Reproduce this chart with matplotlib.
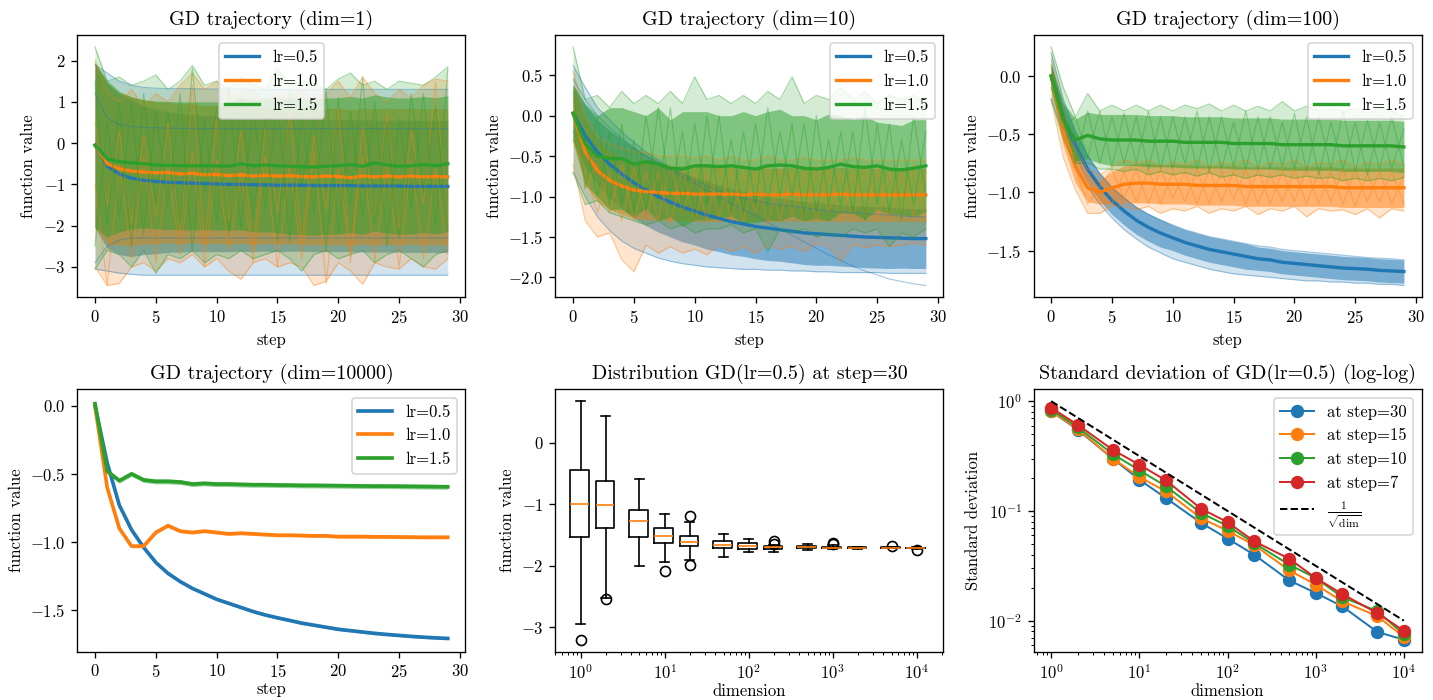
import numpy as np
import matplotlib
matplotlib.use('Agg')
import matplotlib.pyplot as plt
from matplotlib.ticker import MultipleLocator

plt.rcParams['font.family'] = 'serif'
plt.rcParams['font.serif'] = ['cmr10']
plt.rcParams['mathtext.fontset'] = 'cm'
plt.rcParams['axes.formatter.use_mathtext'] = True
plt.rcParams['axes.unicode_minus'] = True

steps = np.arange(30)
lrs = ['lr=0.5', 'lr=1.0', 'lr=1.5']
colors = ['C0', 'C1', 'C2']

# ---------------- dim = 1 ----------------
d1_mean_b = [-0.05, -0.55, -0.75, -0.85, -0.90, -0.93, -0.95, -0.96, -0.97, -0.98,
             -0.99, -1.00, -1.00, -1.01, -1.01, -1.02, -1.02, -1.02, -1.03, -1.03,
             -1.03, -1.03, -1.04, -1.04, -1.04, -1.04, -1.05, -1.05, -1.05, -1.05]
d1_sd_b = [2.00, 2.00, 1.95, 1.90, 1.80, 1.75, 1.70, 1.68, 1.66, 1.65,
           1.64, 1.63, 1.62, 1.62, 1.61, 1.61, 1.60, 1.60, 1.60, 1.60,
           1.60, 1.60, 1.60, 1.60, 1.60, 1.60, 1.60, 1.60, 1.60, 1.60]
d1_lo_b = [-3.05, -3.10, -3.15, -3.18, -3.20, -3.20, -3.20, -3.20, -3.20, -3.20,
           -3.20, -3.20, -3.20, -3.20, -3.20, -3.20, -3.20, -3.20, -3.20, -3.20,
           -3.20, -3.20, -3.20, -3.20, -3.20, -3.20, -3.20, -3.20, -3.20, -3.20]
d1_hi_b = [1.90, 1.70, 1.50, 1.40, 1.35, 1.33, 1.32, 1.32, 1.32, 1.31,
           1.31, 1.31, 1.31, 1.30, 1.30, 1.30, 1.30, 1.30, 1.30, 1.30,
           1.30, 1.30, 1.30, 1.30, 1.30, 1.30, 1.30, 1.30, 1.30, 1.30]
d1_tr_b1 = [1.20, 0.60, 0.45, 0.40, 0.38, 0.37, 0.36, 0.36, 0.35, 0.35,
            0.35, 0.35, 0.35, 0.35, 0.35, 0.35, 0.35, 0.35, 0.35, 0.35,
            0.35, 0.35, 0.35, 0.35, 0.35, 0.35, 0.35, 0.35, 0.35, 0.35]
d1_tr_b2 = [-2.90, -2.50, -2.35, -2.30, -2.30, -2.30, -2.30, -2.30, -2.30, -2.30,
            -2.30, -2.30, -2.30, -2.30, -2.30, -2.30, -2.30, -2.30, -2.30, -2.30,
            -2.30, -2.30, -2.30, -2.30, -2.30, -2.30, -2.30, -2.30, -2.30, -2.30]

d1_mean_o = [-0.05, -0.50, -0.62, -0.68, -0.70, -0.72, -0.71, -0.75, -0.73, -0.77,
             -0.76, -0.79, -0.77, -0.80, -0.78, -0.80, -0.79, -0.81, -0.82, -0.80,
             -0.81, -0.84, -0.80, -0.82, -0.80, -0.82, -0.80, -0.82, -0.81, -0.82]
d1_sd_o = [2.00, 1.95, 1.85, 1.80, 1.75, 1.72, 1.70, 1.70, 1.68, 1.68,
           1.67, 1.67, 1.66, 1.66, 1.65, 1.65, 1.65, 1.65, 1.65, 1.65,
           1.65, 1.65, 1.65, 1.65, 1.65, 1.65, 1.65, 1.65, 1.65, 1.65]
d1_lo_o = [-3.00, -3.45, -3.40, -3.00, -2.90, -3.10, -2.80, -2.90, -2.70, -3.00,
           -2.80, -3.10, -3.30, -2.90, -2.80, -3.00, -2.90, -3.00, -3.45, -3.35,
           -2.90, -3.10, -3.42, -2.90, -3.00, -3.05, -2.80, -3.00, -3.05, -2.80]
d1_hi_o = [2.00, 1.20, 1.00, 1.30, 0.90, 1.20, 1.00, 1.40, 1.70, 1.30,
           1.50, 1.10, 1.20, 1.30, 1.00, 1.20, 1.10, 1.30, 1.00, 1.20,
           1.50, 1.10, 1.60, 1.20, 1.00, 1.30, 1.10, 1.40, 1.55, 1.50]
d1_tr_o1 = [0.50, -1.50, 0.30, -2.00, 0.20, -1.80, 0.50, -2.20, 1.40, -2.50,
            0.60, -1.90, 0.30, -2.60, 0.40, -1.70, 0.80, -2.40, 0.20, -1.60,
            0.90, -2.90, 0.40, -1.80, 0.70, -2.10, 0.30, -1.50, 1.50, -2.00]
d1_tr_o2 = [-1.00, -3.45, -0.50, -2.80, -0.30, -2.90, -0.60, -2.70, -0.20, -3.00,
            -0.40, -2.60, -0.70, -2.90, -0.30, -3.00, -0.50, -2.80, -0.20, -3.40,
            -0.60, -2.70, -0.30, -2.90, -0.50, -3.00, -0.40, -2.80, -0.60, -2.70]

d1_mean_g = [-0.05, -0.38, -0.45, -0.48, -0.50, -0.53, -0.54, -0.55, -0.55, -0.55,
             -0.55, -0.56, -0.50, -0.55, -0.53, -0.55, -0.56, -0.57, -0.58, -0.56,
             -0.55, -0.52, -0.56, -0.48, -0.53, -0.56, -0.55, -0.52, -0.55, -0.50]
d1_sd_g = [2.00, 1.90, 1.70, 1.60, 1.55, 1.55, 1.55, 1.55, 1.55, 1.55,
           1.55, 1.55, 1.60, 1.60, 1.62, 1.62, 1.65, 1.65, 1.65, 1.65,
           1.65, 1.65, 1.65, 1.65, 1.65, 1.65, 1.65, 1.65, 1.65, 1.65]
d1_lo_g = [-3.05, -2.60, -2.70, -3.00, -2.60, -3.15, -2.70, -2.80, -2.60, -2.90,
           -2.70, -2.80, -2.60, -2.80, -2.70, -2.60, -2.80, -3.10, -2.70, -2.60,
           -2.80, -2.70, -2.60, -2.90, -2.70, -2.60, -2.80, -3.00, -2.70, -2.60]
d1_hi_g = [2.33, 1.50, 1.60, 1.40, 1.50, 1.65, 1.30, 1.50, 1.88, 1.40,
           1.50, 1.30, 1.60, 1.40, 1.30, 1.82, 1.40, 1.50, 1.45, 1.30,
           1.55, 1.70, 1.40, 1.50, 1.30, 1.50, 1.45, 1.40, 1.60, 1.85]
d1_tr_g1 = [1.50, -2.00, 1.00, -2.50, 1.20, -1.50, 0.80, -2.00, 1.80, -1.20,
            0.90, -2.20, 1.10, -1.80, 0.60, -2.40, 1.30, -1.00, 0.70, -2.60,
            1.10, -1.50, 1.60, -1.90, 0.50, -2.30, 1.20, -1.20, 0.90, -2.10]
d1_tr_g2 = [-2.50, 0.50, -1.80, 1.00, -2.20, 0.80, -1.50, 1.20, -2.60, 0.60,
            -1.90, 1.40, -2.10, 0.90, -1.60, 1.10, -2.40, 0.70, -1.70, 1.30,
            -2.20, 0.80, -1.80, 1.00, -2.50, 0.60, -1.60, 1.20, -2.00, 1.80]

# ---------------- dim = 10 ----------------
d10_mean_b = [0.03, -0.25, -0.45, -0.60, -0.72, -0.83, -0.92, -1.00, -1.07, -1.13,
              -1.18, -1.23, -1.27, -1.31, -1.34, -1.37, -1.39, -1.41, -1.43, -1.45,
              -1.46, -1.47, -1.48, -1.49, -1.50, -1.505, -1.51, -1.515, -1.52, -1.52]
d10_sd_b = [0.35, 0.38, 0.40, 0.42, 0.43, 0.44, 0.44, 0.44, 0.43, 0.43,
            0.42, 0.42, 0.41, 0.41, 0.40, 0.40, 0.40, 0.39, 0.39, 0.39,
            0.39, 0.38, 0.38, 0.38, 0.38, 0.38, 0.38, 0.37, 0.37, 0.37]
d10_lo_b = [-0.70, -1.00, -1.25, -1.42, -1.55, -1.64, -1.70, -1.76, -1.80, -1.83,
            -1.85, -1.87, -1.88, -1.89, -1.90, -1.90, -1.91, -1.91, -1.92, -1.92,
            -1.93, -1.93, -1.94, -1.94, -1.94, -1.94, -1.95, -1.95, -1.95, -1.95]
d10_hi_b = [0.62, 0.35, 0.10, -0.05, -0.20, -0.33, -0.45, -0.55, -0.64, -0.72,
            -0.80, -0.87, -0.93, -0.98, -1.02, -1.05, -1.08, -1.10, -1.12, -1.14,
            -1.16, -1.18, -1.19, -1.20, -1.21, -1.22, -1.23, -1.24, -1.25, -1.25]
d10_tr_b1 = [0.45, 0.20, 0.00, -0.15, -0.28, -0.40, -0.50, -0.60, -0.68, -0.76,
             -0.84, -0.92, -1.00, -1.08, -1.16, -1.24, -1.32, -1.40, -1.48, -1.56,
             -1.64, -1.72, -1.79, -1.86, -1.92, -1.97, -2.02, -2.05, -2.08, -2.10]

d10_mean_o = [0.03, -0.45, -0.68, -0.80, -0.87, -0.92, -0.94, -0.95, -0.96, -0.96,
              -0.97, -0.97, -0.97, -0.97, -0.98, -0.97, -0.98, -0.98, -0.97, -0.98,
              -0.98, -0.98, -0.97, -0.98, -0.98, -0.98, -0.98, -0.98, -0.98, -0.98]
d10_sd_o = [0.35, 0.40, 0.38, 0.36, 0.35, 0.35, 0.35, 0.34, 0.34, 0.34,
            0.34, 0.34, 0.34, 0.33, 0.33, 0.33, 0.33, 0.33, 0.33, 0.33,
            0.33, 0.33, 0.33, 0.33, 0.33, 0.33, 0.33, 0.33, 0.33, 0.33]
d10_lo_o = [-0.60, -1.30, -1.50, -1.45, -1.78, -1.93, -1.60, -1.70, -1.62, -1.70,
            -1.65, -1.72, -1.60, -1.68, -1.62, -1.70, -1.60, -1.65, -1.62, -1.68,
            -1.58, -1.62, -1.80, -1.60, -1.63, -1.60, -1.62, -1.60, -1.58, -1.60]
d10_hi_o = [0.55, 0.00, -0.25, -0.35, -0.40, -0.45, -0.45, -0.50, -0.50, -0.50,
            -0.52, -0.50, -0.55, -0.50, -0.55, -0.55, -0.50, -0.55, -0.55, -0.52,
            -0.55, -0.55, -0.55, -0.52, -0.55, -0.55, -0.55, -0.55, -0.55, -0.55]
d10_tr_o1 = [0.20, -0.90, -0.60, -1.20, -0.60, -1.30, -0.70, -1.30, -0.60, -1.20,
             -0.70, -1.30, -0.60, -1.30, -0.70, -1.20, -0.60, -1.30, -0.70, -1.30,
             -0.60, -1.20, -0.70, -1.30, -0.60, -1.30, -0.70, -1.20, -0.60, -1.30]
d10_tr_o2 = [-0.30, -0.70, -1.20, -0.70, -1.30, -0.65, -1.25, -0.70, -1.35, -0.65,
             -1.30, -0.70, -1.25, -0.65, -1.30, -0.70, -1.35, -0.65, -1.25, -0.70,
             -1.30, -0.65, -1.35, -0.70, -1.25, -0.65, -1.30, -0.70, -1.25, -0.70]

d10_mean_g = [0.03, -0.35, -0.50, -0.53, -0.53, -0.60, -0.57, -0.60, -0.65, -0.66,
              -0.62, -0.62, -0.63, -0.62, -0.64, -0.66, -0.62, -0.61, -0.62, -0.65,
              -0.66, -0.64, -0.60, -0.63, -0.64, -0.62, -0.66, -0.67, -0.65, -0.62]
d10_sd_g = [0.35, 0.50, 0.50, 0.63, 0.63, 0.65, 0.57, 0.70, 0.60, 0.71,
            0.67, 0.67, 0.63, 0.62, 0.69, 0.66, 0.67, 0.69, 0.62, 0.65,
            0.61, 0.66, 0.60, 0.58, 0.64, 0.54, 0.56, 0.55, 0.60, 0.57]
d10_lo_g = [-0.70, -1.10, -1.05, -1.20, -1.25, -1.30, -1.35, -1.30, -1.40, -1.35,
            -1.45, -1.40, -1.40, -1.35, -1.45, -1.40, -1.68, -1.40, -1.45, -1.40,
            -1.50, -1.45, -1.50, -1.40, -1.45, -1.40, -1.62, -1.45, -1.50, -1.40]
d10_hi_g = [0.85, 0.20, 0.25, 0.10, 0.30, 0.15, 0.25, 0.15, 0.30, 0.15,
            0.48, 0.20, 0.25, 0.15, 0.25, 0.15, 0.30, 0.20, 0.48, 0.15,
            0.25, 0.20, 0.35, 0.20, 0.30, 0.15, 0.25, 0.20, 0.25, 0.15]
d10_tr_g1 = [0.30, -0.90, 0.00, -1.10, -0.10, -1.20, 0.00, -1.00, 0.10, -1.20,
             -0.10, -1.10, 0.00, -1.20, -0.20, -1.10, 0.10, -1.00, -0.10, -1.30,
             0.00, -1.10, -0.20, -1.20, 0.10, -1.10, -0.10, -1.30, 0.00, -1.00]
d10_tr_g2 = [-0.20, -0.30, -1.00, -0.20, -1.10, -0.30, -1.20, 0.10, -1.00, -0.20,
             -1.30, 0.00, -1.10, -0.30, -1.20, -0.10, -1.10, -0.20, -1.00, -0.10,
             -1.20, -0.30, -1.10, -0.20, -1.30, -0.10, -1.20, -0.30, -1.10, -0.20]

# ---------------- dim = 100 ----------------
d100_mean_b = [0.00, -0.35, -0.60, -0.80, -0.95, -1.07, -1.16, -1.24, -1.30, -1.35,
               -1.39, -1.43, -1.46, -1.49, -1.51, -1.53, -1.55, -1.57, -1.58, -1.60,
               -1.61, -1.62, -1.63, -1.64, -1.65, -1.655, -1.66, -1.67, -1.675, -1.68]
d100_sd_b = [0.10, 0.11, 0.12, 0.12, 0.12, 0.12, 0.12, 0.12, 0.12, 0.12,
             0.11, 0.11, 0.11, 0.11, 0.11, 0.11, 0.11, 0.10, 0.10, 0.10,
             0.10, 0.10, 0.10, 0.10, 0.10, 0.10, 0.10, 0.10, 0.10, 0.10]
d100_lo_b = [-0.20, -0.50, -0.75, -0.95, -1.10, -1.22, -1.32, -1.40, -1.47, -1.52,
             -1.57, -1.60, -1.63, -1.66, -1.68, -1.70, -1.71, -1.72, -1.73, -1.74,
             -1.75, -1.76, -1.76, -1.77, -1.77, -1.78, -1.78, -1.79, -1.79, -1.80]
d100_hi_b = [0.20, -0.20, -0.47, -0.68, -0.84, -0.96, -1.05, -1.13, -1.19, -1.24,
             -1.28, -1.32, -1.35, -1.38, -1.40, -1.42, -1.44, -1.46, -1.47, -1.49,
             -1.50, -1.51, -1.52, -1.53, -1.54, -1.55, -1.56, -1.565, -1.57, -1.58]

d100_mean_o = [0.00, -0.48, -0.78, -0.96, -1.00, -0.96, -0.93, -0.92, -0.92, -0.93,
               -0.93, -0.93, -0.94, -0.94, -0.94, -0.94, -0.95, -0.95, -0.95, -0.95,
               -0.95, -0.95, -0.95, -0.95, -0.96, -0.96, -0.96, -0.96, -0.96, -0.96]
d100_sd_o = [0.10, 0.12, 0.14, 0.12, 0.10, 0.14, 0.16, 0.17, 0.17, 0.17,
             0.17, 0.17, 0.17, 0.17, 0.17, 0.17, 0.17, 0.17, 0.17, 0.17,
             0.17, 0.17, 0.17, 0.17, 0.17, 0.17, 0.17, 0.17, 0.17, 0.17]
d100_lo_o = [-0.20, -0.70, -0.98, -1.18, -1.18, -1.12, -1.12, -1.15, -1.12, -1.18,
             -1.14, -1.16, -1.12, -1.18, -1.14, -1.16, -1.12, -1.19, -1.14, -1.16,
             -1.12, -1.21, -1.14, -1.16, -1.15, -1.19, -1.14, -1.22, -1.14, -1.16]
d100_hi_o = [0.15, -0.30, -0.62, -0.80, -0.85, -0.78, -0.72, -0.75, -0.72, -0.78,
             -0.74, -0.76, -0.72, -0.78, -0.74, -0.76, -0.72, -0.78, -0.74, -0.76,
             -0.72, -0.78, -0.74, -0.76, -0.72, -0.78, -0.74, -0.76, -0.72, -0.76]
d100_tr_o1 = [0.00, -0.50, -0.80, -1.10, -0.95, -0.80, -1.05, -0.80, -1.10, -0.80,
              -1.05, -0.82, -1.10, -0.80, -1.08, -0.82, -1.10, -0.80, -1.10, -0.82,
              -1.08, -0.80, -1.10, -0.82, -1.10, -0.80, -1.08, -0.82, -1.10, -0.85]
d100_tr_o2 = [-0.10, -0.45, -0.75, -0.95, -1.05, -1.10, -0.82, -1.08, -0.80, -1.10,
              -0.82, -1.08, -0.80, -1.10, -0.82, -1.06, -0.80, -1.10, -0.84, -1.08,
              -0.80, -1.10, -0.82, -1.08, -0.80, -1.12, -0.84, -1.08, -0.82, -1.10]

d100_mean_g = [0.00, -0.38, -0.55, -0.51, -0.54, -0.55, -0.55, -0.55, -0.56, -0.56,
               -0.56, -0.57, -0.57, -0.57, -0.57, -0.58, -0.58, -0.58, -0.58, -0.59,
               -0.59, -0.59, -0.59, -0.59, -0.60, -0.60, -0.60, -0.60, -0.60, -0.61]
d100_sd_g = [0.10, 0.15, 0.18, 0.20, 0.21, 0.22, 0.22, 0.22, 0.22, 0.22,
             0.22, 0.22, 0.22, 0.22, 0.22, 0.22, 0.22, 0.22, 0.22, 0.22,
             0.22, 0.22, 0.22, 0.22, 0.22, 0.22, 0.22, 0.22, 0.22, 0.22]
d100_lo_g = [-0.20, -0.55, -0.75, -0.75, -0.80, -0.80, -0.82, -0.80, -0.85, -0.82,
             -0.85, -0.83, -0.86, -0.83, -0.87, -0.85, -0.88, -0.85, -0.87, -0.85,
             -0.88, -0.86, -0.88, -0.87, -0.90, -0.88, -0.90, -0.88, -0.90, -0.87]
d100_hi_g = [0.25, -0.10, -0.35, -0.15, -0.30, -0.25, -0.30, -0.25, -0.30, -0.25,
             -0.30, -0.25, -0.28, -0.24, -0.30, -0.25, -0.30, -0.26, -0.30, -0.22,
             -0.30, -0.26, -0.30, -0.28, -0.30, -0.28, -0.32, -0.27, -0.30, -0.35]
d100_tr_g1 = [0.10, -0.30, -0.75, -0.30, -0.75, -0.35, -0.75, -0.35, -0.80, -0.35,
              -0.80, -0.35, -0.80, -0.35, -0.80, -0.40, -0.80, -0.35, -0.80, -0.40,
              -0.80, -0.35, -0.85, -0.40, -0.80, -0.40, -0.85, -0.40, -0.80, -0.45]
d100_tr_g2 = [-0.10, -0.45, -0.35, -0.70, -0.30, -0.78, -0.32, -0.75, -0.30, -0.80,
              -0.35, -0.75, -0.30, -0.82, -0.35, -0.78, -0.30, -0.80, -0.35, -0.78,
              -0.32, -0.82, -0.35, -0.80, -0.30, -0.82, -0.38, -0.80, -0.35, -0.78]

# ---------------- dim = 10000 ----------------
d4_mean_b = [0.00, -0.42, -0.73, -0.91, -1.04, -1.15, -1.23, -1.29, -1.34, -1.38,
             -1.42, -1.45, -1.48, -1.51, -1.535, -1.556, -1.575, -1.595, -1.61, -1.625,
             -1.64, -1.65, -1.66, -1.67, -1.678, -1.685, -1.692, -1.698, -1.703, -1.707]
d4_mean_o = [0.00, -0.60, -0.90, -1.03, -1.03, -0.93, -0.88, -0.92, -0.93, -0.92,
             -0.93, -0.94, -0.935, -0.94, -0.945, -0.95, -0.95, -0.952, -0.955, -0.955,
             -0.96, -0.96, -0.96, -0.962, -0.962, -0.963, -0.964, -0.965, -0.965, -0.965]
d4_mean_g = [0.015, -0.48, -0.55, -0.50, -0.545, -0.555, -0.555, -0.56, -0.575, -0.57,
             -0.575, -0.575, -0.578, -0.58, -0.58, -0.582, -0.583, -0.585, -0.585, -0.586,
             -0.587, -0.588, -0.589, -0.59, -0.59, -0.591, -0.592, -0.593, -0.594, -0.595]
d4_spread = [0.010, 0.012, 0.018]

# ---------------- step-30 distribution / std ----------------
dims = [1, 2, 5, 10, 20, 50, 100, 200, 500, 1000, 2000, 5000, 10000]
box_med = [-1.00, -1.02, -1.28, -1.51, -1.61, -1.66, -1.685, -1.70, -1.70, -1.705, -1.705, -1.705, -1.71]
box_q1 = [-1.53, -1.38, -1.54, -1.63, -1.685, -1.71, -1.72, -1.725, -1.715, -1.715, -1.712, -1.71, -1.714]
box_q3 = [-0.44, -0.62, -1.09, -1.38, -1.51, -1.59, -1.63, -1.675, -1.685, -1.695, -1.70, -1.70, -1.706]
box_lo = [-2.94, -2.53, -2.00, -1.94, -1.90, -1.86, -1.78, -1.78, -1.745, -1.73, -1.72, -1.715, -1.72]
box_hi = [0.67, 0.43, -0.585, -1.155, -1.29, -1.485, -1.56, -1.66, -1.64, -1.67, -1.69, -1.695, -1.70]
box_fliers = [[-3.2], [-2.54], [], [-2.09], [-1.2, -1.98], [], [], [-1.59, -1.64],
              [], [-1.63, -1.65], [], [-1.675], [-1.74]]

std_step30 = [0.81, 0.55, 0.30, 0.193, 0.131, 0.078, 0.056, 0.040, 0.0233, 0.0179, 0.0135, 0.0079, 0.0067]
std_step15 = [0.81, 0.56, 0.30, 0.204, 0.151, 0.086, 0.066, 0.049, 0.0288, 0.0213, 0.0150, 0.0110, 0.0071]
std_step10 = [0.84, 0.58, 0.33, 0.235, 0.168, 0.096, 0.073, 0.051, 0.0324, 0.0245, 0.0164, 0.0122, 0.0075]
std_step7 = [0.87, 0.61, 0.36, 0.264, 0.190, 0.105, 0.079, 0.053, 0.0367, 0.0245, 0.0175, 0.0117, 0.0081]
std_labels = ['at step=30', 'at step=15', 'at step=10', 'at step=7']


def draw_group(ax, mean, sd, lo, hi, traces, color, label):
    m = np.array(mean)
    s = np.array(sd)
    for tr in traces:
        ax.plot(steps, tr, color=color, lw=0.7, alpha=0.4)
    ax.plot(steps, lo, color=color, lw=0.7, alpha=0.4)
    ax.plot(steps, hi, color=color, lw=0.7, alpha=0.4)
    ax.fill_between(steps, lo, hi, color=color, alpha=0.2, lw=0)
    ax.fill_between(steps, m - s, m + s, color=color, alpha=0.5, lw=0)
    ax.plot(steps, m, color=color, lw=2, label=label)


fig, axes = plt.subplots(2, 3, figsize=(1433 / 120, 700 / 120), dpi=120)
fig.subplots_adjust(left=0.054, right=0.992, top=0.95, bottom=0.069, wspace=0.232, hspace=0.35)

panels = [
    ('GD trajectory (dim=1)', 'upper center', 1.0, [
        (d1_mean_b, d1_sd_b, d1_lo_b, d1_hi_b, [d1_tr_b1, d1_tr_b2]),
        (d1_mean_o, d1_sd_o, d1_lo_o, d1_hi_o, [d1_tr_o1, d1_tr_o2]),
        (d1_mean_g, d1_sd_g, d1_lo_g, d1_hi_g, [d1_tr_g1, d1_tr_g2])]),
    ('GD trajectory (dim=10)', 'upper right', 0.5, [
        (d10_mean_b, d10_sd_b, d10_lo_b, d10_hi_b, [d10_tr_b1]),
        (d10_mean_o, d10_sd_o, d10_lo_o, d10_hi_o, [d10_tr_o1, d10_tr_o2]),
        (d10_mean_g, d10_sd_g, d10_lo_g, d10_hi_g, [d10_tr_g1, d10_tr_g2])]),
    ('GD trajectory (dim=100)', 'upper right', 0.5, [
        (d100_mean_b, d100_sd_b, d100_lo_b, d100_hi_b, []),
        (d100_mean_o, d100_sd_o, d100_lo_o, d100_hi_o, [d100_tr_o1, d100_tr_o2]),
        (d100_mean_g, d100_sd_g, d100_lo_g, d100_hi_g, [d100_tr_g1, d100_tr_g2])]),
]

for ax, (title, loc, ystep, groups) in zip(axes[0], panels):
    for (mean, sd, lo, hi, traces), c, lab in zip(groups, colors, lrs):
        draw_group(ax, mean, sd, lo, hi, traces, c, lab)
    ax.set_title(title)
    ax.set_xlabel('step')
    ax.set_ylabel('function value')
    ax.yaxis.set_major_locator(MultipleLocator(ystep))
    ax.legend(loc=loc)

# dim = 10000
ax = axes[1, 0]
for mean, sp, c, lab in zip([d4_mean_b, d4_mean_o, d4_mean_g], d4_spread, colors, lrs):
    m = np.array(mean)
    ax.fill_between(steps, m - sp, m + sp, color=c, alpha=0.5, lw=0)
    ax.plot(steps, m, color=c, lw=2.2, label=lab)
ax.set_title('GD trajectory (dim=10000)')
ax.set_xlabel('step', labelpad=1)
ax.set_ylabel('function value')
ax.yaxis.set_major_locator(MultipleLocator(0.5))
ax.legend(loc='upper right')

# boxplot of final values
ax = axes[1, 1]
ax.set_xscale('log')
stats = []
for i in range(len(dims)):
    stats.append(dict(med=box_med[i], q1=box_q1[i], q3=box_q3[i],
                      whislo=box_lo[i], whishi=box_hi[i], fliers=box_fliers[i]))
ax.bxp(stats, positions=dims, widths=[0.5 * d for d in dims],
       medianprops=dict(color='C1'),
       flierprops=dict(marker='o', markerfacecolor='none'))
ax.set_xscale('log')
ax.autoscale()
ax.yaxis.set_major_locator(MultipleLocator(1))
ax.set_title('Distribution GD(lr=0.5) at step=30')
ax.set_xlabel('dimension', labelpad=1)
ax.set_ylabel('function value')

# std log-log
ax = axes[1, 2]
for vals, c, lab in zip([std_step30, std_step15, std_step10, std_step7],
                        ['C0', 'C1', 'C2', 'C3'], std_labels):
    ax.loglog(dims, vals, 'o-', color=c, ms=7, lw=1.2, label=lab)
ax.loglog(dims, 1 / np.sqrt(dims), 'k--', lw=1.2, label=r'$\frac{1}{\sqrt{\mathrm{dim}}}$')
ax.set_title('Standard deviation of GD(lr=0.5) (log-log)')
ax.set_xlabel('dimension', labelpad=1)
ax.set_ylabel('Standard deviation')
ax.legend(loc='upper right')

fig.savefig('out.png', dpi=120)
